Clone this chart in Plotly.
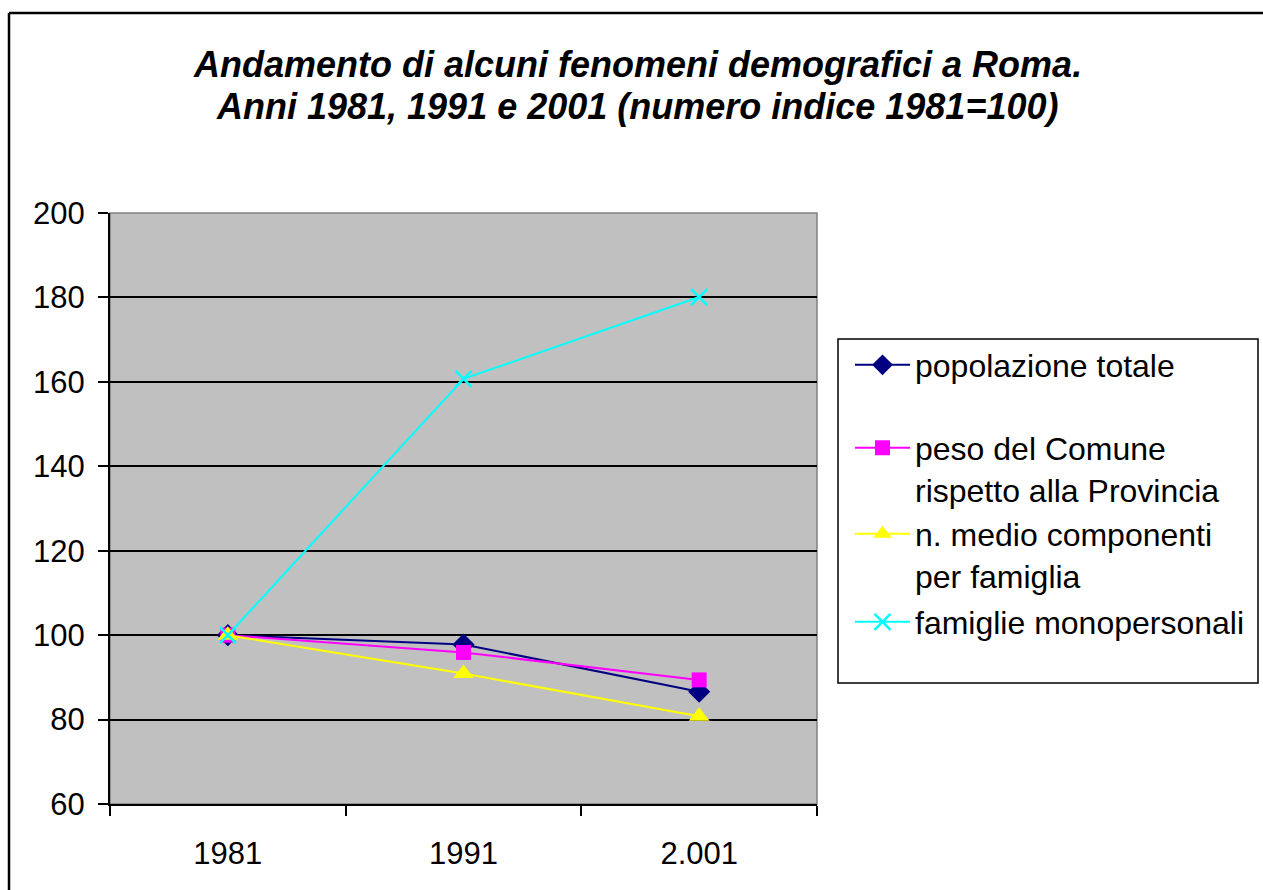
import plotly.graph_objects as go

anni = ["1981", "1991", "2.001"]
popolazione_totale = [100, 97.8, 86.6]
peso_comune = [100, 95.9, 89.4]
componenti_famiglia = [100, 90.9, 80.8]
famiglie_monopersonali = [100, 160.7, 180.1]

nomi = [
    "popolazione totale",
    "peso del Comune<br>rispetto alla Provincia",
    "n. medio componenti<br>per famiglia",
    "famiglie monopersonali",
]
colori = ["#000080", "#FF00FF", "#FFFF00", "#00FFFF"]
simboli = ["diamond", "square", "triangle-up", "x-thin"]
serie = [popolazione_totale, peso_comune, componenti_famiglia, famiglie_monopersonali]

W, H = 1263, 890
L, R, T, B = 110, 817, 213, 804
pw, ph = R - L, B - T


def px2x(px):
    return (px - L) / pw


def py2y(py):
    return (B - py) / ph


FONT = "Liberation Sans, Arial, sans-serif"

fig = go.Figure()
legend_ids = ["legend", "legend2", "legend3", "legend4"]
# vertical centre of each legend block (page px)
legend_y = [365, 469, 555, 622]
for i, (nome, col, sym, vals) in enumerate(zip(nomi, colori, simboli, serie)):
    if sym == "x-thin":
        marker = dict(symbol=sym, size=16, color=col, line=dict(color=col, width=2.5))
    elif sym == "diamond":
        marker = dict(symbol=sym, size=17, color=col, line=dict(width=0))
    elif sym == "triangle-up":
        marker = dict(symbol=sym, size=18, color=col, line=dict(width=0))
    else:
        marker = dict(symbol=sym, size=15, color=col, line=dict(width=0))
    fig.add_trace(go.Scatter(
        x=anni, y=vals, name=nome, mode="lines+markers",
        line=dict(color=col, width=2), marker=marker,
        legend=legend_ids[i],
    ))

layout_legends = {}
for i, lid in enumerate(legend_ids):
    layout_legends[lid] = dict(
        x=px2x(850), y=py2y(legend_y[i]), xanchor="left", yanchor="middle",
        xref="paper", yref="paper", bgcolor="rgba(0,0,0,0)", borderwidth=0,
        font=dict(family=FONT, size=32, color="black"), valign="top",
        itemwidth=55, tracegroupgap=0,
    )

fig.update_layout(
    width=W, height=H,
    margin=dict(l=L, r=W - R, t=T, b=H - B, pad=0),
    paper_bgcolor="white", plot_bgcolor="#C0C0C0",
    font=dict(family=FONT, size=31, color="black"),
    showlegend=True,
    **layout_legends,
)

fig.update_xaxes(
    type="category", range=[-0.5, 2.5], tickson="boundaries",
    ticks="outside", ticklen=10, tickwidth=2, tickcolor="black",
    showline=True, linecolor="black", linewidth=2, showgrid=False,
    tickfont=dict(family=FONT, size=31, color="black"), ticklabelstandoff=21,
    fixedrange=True,
)
fig.update_yaxes(
    range=[60, 200], dtick=20, tick0=60,
    ticks="outside", ticklen=10, tickwidth=2, tickcolor="black",
    showline=True, linecolor="black", linewidth=2,
    showgrid=True, gridcolor="black", gridwidth=1.5, zeroline=False,
    tickfont=dict(family=FONT, size=31, color="black"), ticklabelstandoff=7,
    fixedrange=True,
)

shapes = [
    dict(type="rect", xref="paper", yref="paper", x0=0, x1=1, y0=0, y1=1,
         line=dict(color="#808080", width=1.5), layer="below"),
    dict(type="rect", xref="paper", yref="paper",
         x0=px2x(838), x1=px2x(1258), y0=py2y(683), y1=py2y(339),
         line=dict(color="black", width=1.5), fillcolor="white", layer="below"),
    dict(type="line", xref="paper", yref="paper", x0=px2x(9), x1=px2x(1300),
         y0=py2y(13), y1=py2y(13), line=dict(color="black", width=2.5)),
    dict(type="line", xref="paper", yref="paper", x0=px2x(9), x1=px2x(9),
         y0=py2y(13), y1=py2y(930), line=dict(color="black", width=2.5)),
]
fig.update_layout(shapes=shapes)

fig.add_annotation(
    text="<b><i>Andamento di alcuni fenomeni demografici a Roma.</i></b>",
    xref="paper", yref="paper", x=px2x(637), y=py2y(64), xanchor="center", yanchor="middle",
    showarrow=False, font=dict(family=FONT, size=36, color="black"),
)
fig.add_annotation(
    text="<b><i>Anni 1981, 1991 e 2001 (numero indice 1981=100)</i></b>",
    xref="paper", yref="paper", x=px2x(637), y=py2y(106), xanchor="center", yanchor="middle",
    showarrow=False, font=dict(family=FONT, size=36, color="black"),
)

fig.write_html(
    "out.html",
    config={"displayModeBar": False},
    post_script="document.body.style.margin='0';document.body.style.overflow='hidden';",
)
